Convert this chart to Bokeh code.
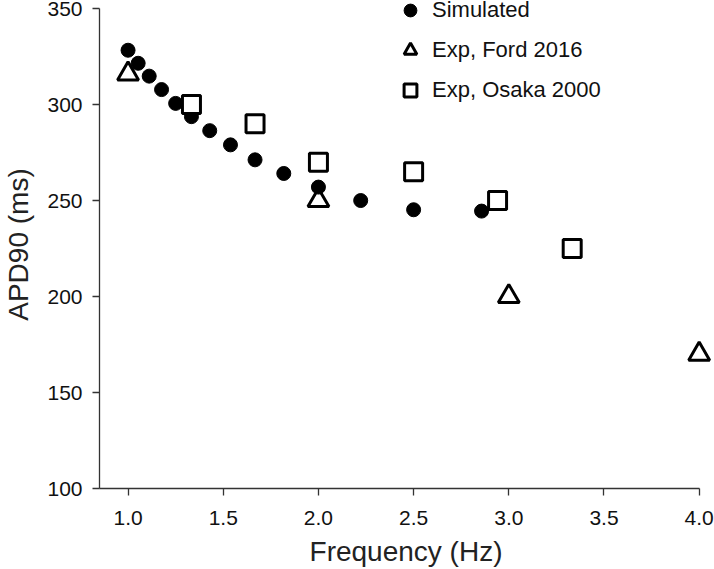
from bokeh.plotting import figure
from bokeh.models import Range1d, Legend, LegendItem, FixedTicker
from bokeh.embed import file_html
from bokeh.resources import INLINE

# Simulated
sim_freq = [1.0, 1.053, 1.111, 1.176, 1.25, 1.333, 1.429, 1.538, 1.667, 1.818, 2.0, 2.222, 2.5, 2.857]
sim_apd = [328.3, 321.5, 314.8, 307.8, 300.6, 293.7, 286.4, 279.0, 271.2, 264.1, 257.0, 250.0, 245.2, 244.5]
# Exp, Ford 2016
ford_freq = [1.0, 2.0, 3.0, 4.0]
ford_apd = [316, 250, 200, 170]
# Exp, Osaka 2000
osaka_freq = [1.333, 1.667, 2.0, 2.5, 2.941, 3.333]
osaka_apd = [300, 290, 270, 265, 250, 225]

x_ticks = [1.0, 1.5, 2.0, 2.5, 3.0, 3.5, 4.0]
y_ticks = [100, 150, 200, 250, 300, 350]

FONT = "Liberation Sans"

p = figure(width=714, height=569, output_backend="svg", toolbar_location=None,
           x_range=Range1d(0.85, 4.07), y_range=Range1d(100, 354.2),
           min_border_left=99, min_border_right=2, min_border_top=0, min_border_bottom=80)
p.outline_line_color = None
p.xgrid.visible = False
p.ygrid.visible = False

for ax in (p.xaxis[0], p.yaxis[0]):
    ax.axis_line_color = "#333333"
    ax.axis_line_width = 1.3
    ax.major_tick_line_color = "#333333"
    ax.major_tick_line_width = 1.3
    ax.major_tick_out = 7
    ax.major_tick_in = 0
    ax.minor_tick_line_color = None
    ax.major_label_text_font = FONT
    ax.major_label_text_font_size = "21px"
    ax.major_label_text_color = "#111111"
    ax.axis_label_text_font = FONT
    ax.axis_label_text_font_size = "28px"
    ax.axis_label_text_font_style = "normal"
    ax.axis_label_text_color = "#222222"

p.xaxis.ticker = FixedTicker(ticks=x_ticks)
p.yaxis.ticker = FixedTicker(ticks=y_ticks)
p.xaxis.bounds = (0.85, 4.0)
p.yaxis.bounds = (100, 350)
p.xaxis.major_label_overrides = {t: f"{t:.1f}" for t in x_ticks}
p.xaxis.axis_label = "Frequency (Hz)"
p.yaxis.axis_label = "APD90 (ms)"
p.xaxis.major_label_standoff = 15
p.xaxis.axis_label_standoff = 8
p.yaxis.major_label_standoff = 10
p.yaxis.axis_label_standoff = 10

r_tri = p.scatter(ford_freq, ford_apd, marker="triangle", size=21, fill_color="white",
                  line_color="black", line_width=3)
r_sim = p.scatter(sim_freq, sim_apd, marker="circle", size=14, fill_color="black",
                  line_color="black", line_width=1)
r_sq = p.scatter(osaka_freq, osaka_apd, marker="square", size=18, fill_color="white",
                 line_color="black", line_width=3)

legend = Legend(items=[
    LegendItem(label="Simulated", renderers=[r_sim]),
    LegendItem(label="Exp, Ford 2016", renderers=[r_tri]),
    LegendItem(label="Exp, Osaka 2000", renderers=[r_sq]),
], location=(295, 382))
legend.glyph_width = 32
legend.glyph_height = 32
legend.spacing = 8
legend.padding = 0
legend.margin = 0
legend.label_standoff = 6
legend.label_text_font = FONT
legend.label_text_font_size = "22px"
legend.label_text_color = "#111111"
legend.border_line_color = None
legend.background_fill_alpha = 0
p.add_layout(legend)

open("out.html", "w").write(file_html(p, INLINE))
